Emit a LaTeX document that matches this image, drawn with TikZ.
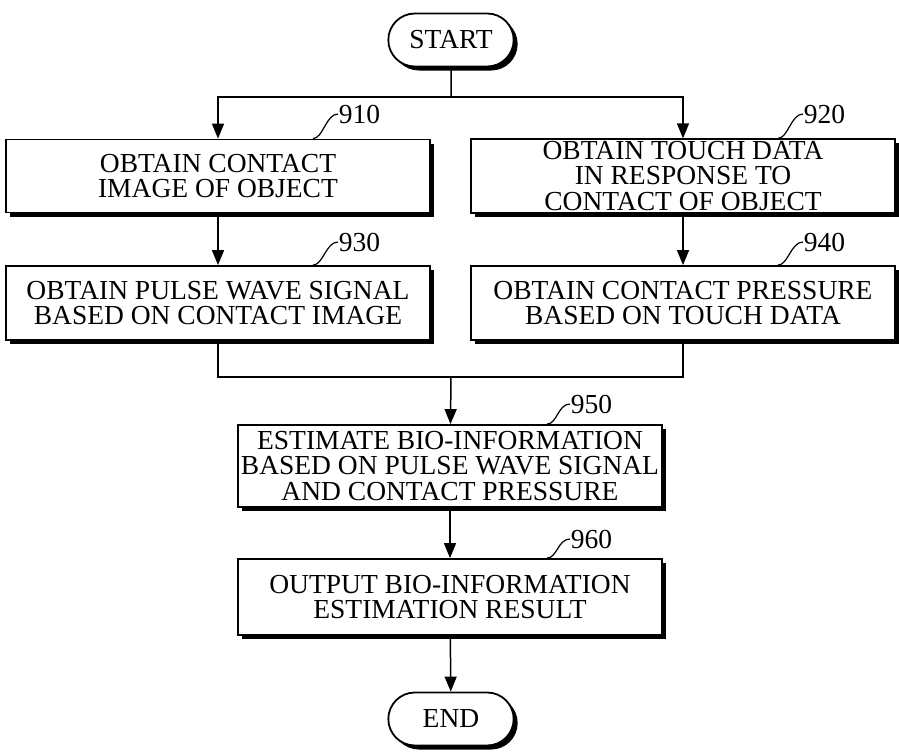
\documentclass[tikz,border=0pt]{standalone}
\usepackage{fontspec}
\setmainfont{Liberation Serif}
\usepackage{tikz}
\usetikzlibrary{positioning,shapes,shadows,arrows.meta}

\begin{document}
\begin{tikzpicture}[x=1pt,y=-1pt,line width=1.5pt,
  font=\fontsize{27.5}{25.5}\selectfont,
  box/.style={draw,line width=1.8pt,fill=white,align=center,minimum width=424pt,inner sep=2pt,
    drop shadow={shadow xshift=4pt,shadow yshift=-4pt,fill=black,opacity=1}},
  term/.style={draw,line width=1.8pt,fill=white,rounded rectangle,minimum width=132pt,minimum height=53pt,
    drop shadow={shadow xshift=4pt,shadow yshift=-4pt,fill=black,opacity=1}},
  arr/.style={-{Triangle[length=15pt,width=12pt]}},
  num/.style={anchor=west,inner sep=0pt}]
\useasboundingbox (0,0) rectangle (899,752);
\node[term] (start) at (451,40) {START};
\node[box,minimum height=73pt] (b910) at (218,176) {OBTAIN CONTACT\\IMAGE OF OBJECT};
\node[box,minimum height=73pt] (b920) at (683,176) {OBTAIN TOUCH DATA\\IN RESPONSE TO\\CONTACT OF OBJECT};
\node[box,minimum height=74pt] (b930) at (218,303) {OBTAIN PULSE WAVE SIGNAL\\BASED ON CONTACT IMAGE};
\node[box,minimum height=74pt] (b940) at (683,303) {OBTAIN CONTACT PRESSURE\\BASED ON TOUCH DATA};
\node[box,minimum height=82pt] (b950) at (450,466) {ESTIMATE BIO-INFORMATION\\BASED ON PULSE WAVE SIGNAL\\AND CONTACT PRESSURE};
\node[box,minimum height=76pt] (b960) at (450,597) {OUTPUT BIO-INFORMATION\\ESTIMATION RESULT};
\node[term] (end) at (451,719) {END};
% step numbers
\node[num] (n910) at (338,114) {910};
\node[num] (n920) at (803,114) {920};
\node[num] (n930) at (338,242) {930};
\node[num] (n940) at (803,242) {940};
\node[num] (n950) at (570,404) {950};
\node[num] (n960) at (570,539) {960};
\draw[line width=1.2pt] (n910.west) .. controls +(-12,0) and +(10,0) .. ([xshift=95pt]b910.north);
\draw[line width=1.2pt] (n920.west) .. controls +(-12,0) and +(10,0) .. ([xshift=95pt]b920.north);
\draw[line width=1.2pt] (n930.west) .. controls +(-12,0) and +(10,0) .. ([xshift=95pt]b930.north);
\draw[line width=1.2pt] (n940.west) .. controls +(-12,0) and +(10,0) .. ([xshift=95pt]b940.north);
\draw[line width=1.2pt] (n950.west) .. controls +(-12,0) and +(10,0) .. ([xshift=97pt]b950.north);
\draw[line width=1.2pt] (n960.west) .. controls +(-12,0) and +(10,0) .. ([xshift=97pt]b960.north);
% connectors
\coordinate (split) at (451,97);
\coordinate (join) at (451,377);
\draw (start) -- (split);
\draw[arr] (split) -| (b910.north);
\draw[arr] (split) -| (b920.north);
\draw[arr] (b910) -- (b930);
\draw[arr] (b920) -- (b940);
\draw (b930.south) |- (join);
\draw (b940.south) |- (join);
\draw[arr] (join) -- (b950);
\draw[arr] (b950) -- (b960);
\draw[arr] (b960) -- (end);
\end{tikzpicture}
\end{document}
